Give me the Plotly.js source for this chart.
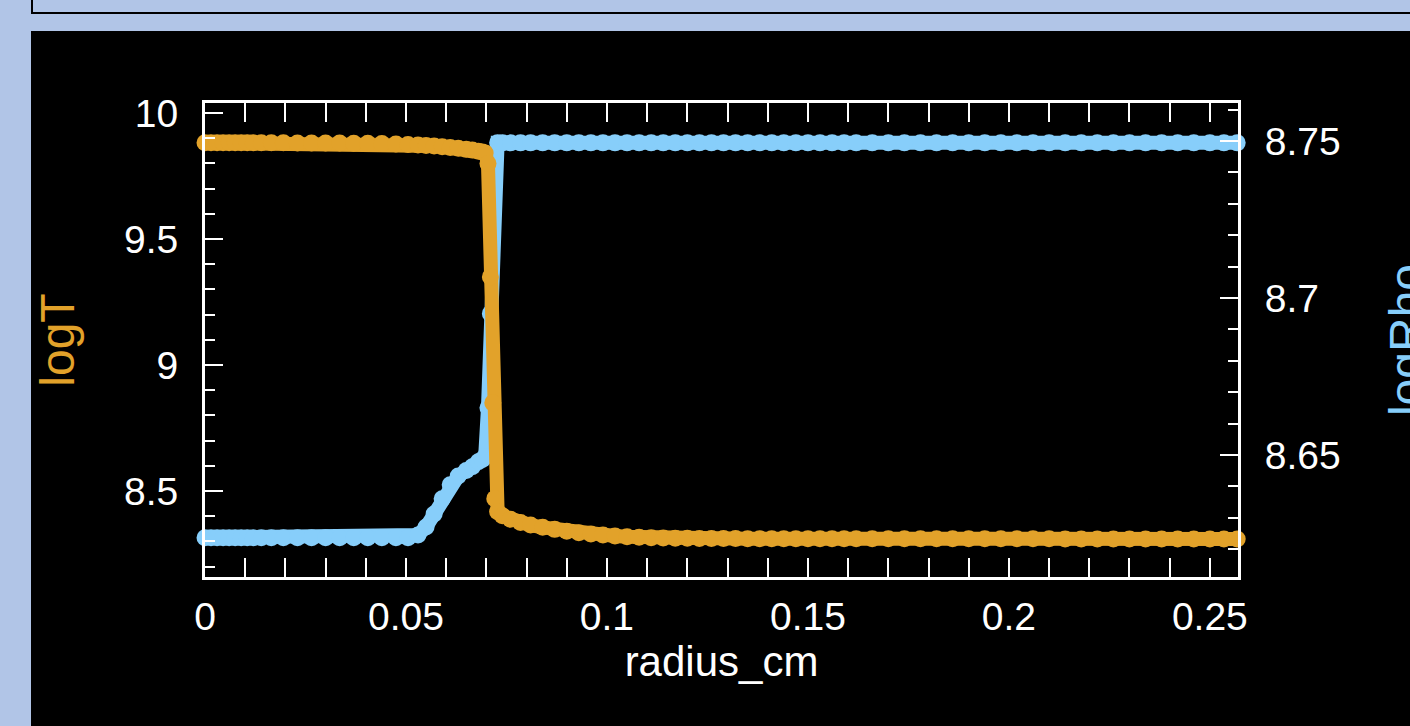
<!DOCTYPE html>
<html>
<head>
<meta charset="utf-8">
<script src="https://cdn.plot.ly/plotly-3.0.1.min.js"></script>
<style>
  html, body { margin: 0; padding: 0; width: 1410px; height: 726px; overflow: hidden; background: #b1c5e7; }
  #topbox { position: absolute; left: 31px; top: -4px; width: 1400px; height: 14px; border: 2px solid #000; background: #b1c5e7; box-sizing: content-box; }
  #chart { position: absolute; left: 31px; top: 31px; width: 1429px; height: 695px; background: #000; }
</style>
</head>
<body>
<div id="topbox"></div>
<div id="chart"></div>
<script>
// radius (cm) of each zone
const radius = [
  0.0000, 0.0015, 0.0030, 0.0045, 0.0060, 0.0075, 0.0090, 0.0105, 0.0120, 0.0140,
  0.0165, 0.0195, 0.0230, 0.0265, 0.0300, 0.0335, 0.0370, 0.0405, 0.0440, 0.0475,
  0.0505, 0.0530, 0.0550, 0.0570, 0.0590, 0.0610, 0.0630, 0.0650, 0.0665, 0.0680,
  0.0690, 0.0697, 0.0704, 0.0710, 0.0716, 0.0721, 0.0728, 0.0740, 0.0760, 0.0785,
  0.0810, 0.0840, 0.0870, 0.0900, 0.0930, 0.0960, 0.0990, 0.1020, 0.1050, 0.1080,
  0.1110, 0.1140, 0.1170, 0.1200, 0.1230, 0.1260, 0.1290, 0.1320, 0.1350, 0.1380,
  0.1410, 0.1440, 0.1470, 0.1500, 0.1530, 0.1560, 0.1590, 0.1620, 0.1660, 0.1700,
  0.1740, 0.1780, 0.1820, 0.1860, 0.1900, 0.1940, 0.1980, 0.2020, 0.2060, 0.2100,
  0.2140, 0.2180, 0.2220, 0.2260, 0.2300, 0.2340, 0.2380, 0.2420, 0.2460, 0.2500,
  0.2535, 0.2568
];

// log10 temperature (left axis)
const logT = [
  9.882, 9.882, 9.882, 9.882, 9.882, 9.882, 9.882, 9.882, 9.882, 9.882,
  9.882, 9.882, 9.881, 9.881, 9.881, 9.881, 9.880, 9.880, 9.879, 9.877,
  9.875, 9.873, 9.871, 9.869, 9.866, 9.863, 9.860, 9.856, 9.853, 9.849,
  9.846, 9.842, 9.800, 9.350, 8.850, 8.470, 8.418, 8.402, 8.388, 8.375,
  8.365, 8.356, 8.348, 8.341, 8.335, 8.330, 8.326, 8.322, 8.319, 8.317,
  8.315, 8.314, 8.313, 8.313, 8.312, 8.312, 8.312, 8.312, 8.311, 8.311,
  8.311, 8.311, 8.311, 8.311, 8.311, 8.311, 8.311, 8.311, 8.311, 8.311,
  8.311, 8.311, 8.311, 8.311, 8.311, 8.311, 8.311, 8.311, 8.311, 8.311,
  8.310, 8.310, 8.310, 8.310, 8.310, 8.310, 8.310, 8.310, 8.310, 8.310,
  8.310, 8.310
];

// log10 density (right axis)
const logRho = [
  8.6236, 8.6236, 8.6236, 8.6236, 8.6236, 8.6236, 8.6236, 8.6236, 8.6236, 8.6236,
  8.6236, 8.6236, 8.6236, 8.6236, 8.6236, 8.6236, 8.6236, 8.6236, 8.6236, 8.6236,
  8.6236, 8.6245, 8.6270, 8.6312, 8.6360, 8.6405, 8.6433, 8.6450, 8.6462, 8.6478,
  8.6485, 8.6495, 8.6650, 8.6950, 8.7280, 8.7460, 8.7494, 8.7494, 8.7494, 8.7494,
  8.7494, 8.7494, 8.7494, 8.7494, 8.7494, 8.7494, 8.7494, 8.7494, 8.7494, 8.7494,
  8.7494, 8.7494, 8.7494, 8.7494, 8.7494, 8.7494, 8.7494, 8.7494, 8.7494, 8.7494,
  8.7494, 8.7494, 8.7494, 8.7494, 8.7494, 8.7494, 8.7494, 8.7494, 8.7494, 8.7494,
  8.7494, 8.7494, 8.7494, 8.7494, 8.7494, 8.7494, 8.7494, 8.7494, 8.7494, 8.7494,
  8.7494, 8.7494, 8.7494, 8.7494, 8.7494, 8.7494, 8.7494, 8.7494, 8.7494, 8.7494,
  8.7494, 8.7494
];

const xLabel = 'radius_cm';
const leftLabel = 'logT';
const rightLabel = 'logRho';

const ORANGE = '#e2a22a';
const BLUE = '#87cefa';
const FONT = 'Liberation Sans, Arial, sans-serif';

// logRho on the primary (right-side) axis, logT on the overlaying (left-side) axis so it is drawn on top
const traces = [
  {
    x: radius, y: logRho, yaxis: 'y', type: 'scatter', mode: 'lines+markers',
    line: { color: BLUE, width: 14 }, marker: { color: BLUE, size: 17 },
    cliponaxis: false, hoverinfo: 'skip', name: rightLabel
  },
  {
    x: radius, y: logT, yaxis: 'y2', type: 'scatter', mode: 'lines+markers',
    line: { color: ORANGE, width: 14 }, marker: { color: ORANGE, size: 17 },
    cliponaxis: false, hoverinfo: 'skip', name: leftLabel
  }
];

const tickCommon = {
  ticks: 'inside', tickcolor: '#fff', tickwidth: 2,
  showline: true, linecolor: '#fff', linewidth: 3,
  showgrid: false, zeroline: false, automargin: false,
  tickfont: { family: FONT, size: 39, color: '#fff' }
};

const layout = {
  width: 1429, height: 695,
  paper_bgcolor: '#000', plot_bgcolor: '#000',
  margin: { l: 174, r: 222, t: 72, b: 149 },
  showlegend: false,
  font: { family: FONT, color: '#fff' },
  xaxis: Object.assign({}, tickCommon, {
    range: [0, 0.257], tick0: 0, dtick: 0.05, ticklen: 19,
    mirror: 'allticks', ticklabelstandoff: 3,
    minor: { dtick: 0.01, tick0: 0, ticks: 'inside', ticklen: 9, tickwidth: 2, tickcolor: '#fff' },
    title: { text: xLabel, font: { family: FONT, size: 42, color: '#fff' }, standoff: 6 }
  }),
  yaxis: Object.assign({}, tickCommon, {
    side: 'right',
    range: [8.6111, 8.7621], tick0: 0, dtick: 0.05, ticklen: 18,
    ticklabelstandoff: 16,
    minor: { dtick: 0.01, tick0: 0, ticks: 'inside', ticklen: 10, tickwidth: 2, tickcolor: '#fff' },
    title: { text: rightLabel, font: { family: FONT, size: 48, color: BLUE }, standoff: 50 }
  }),
  yaxis2: Object.assign({}, tickCommon, {
    overlaying: 'y', side: 'left',
    range: [8.159, 10.04], tick0: 0, dtick: 0.5, ticklen: 18,
    ticklabelstandoff: 16,
    minor: { dtick: 0.1, tick0: 0, ticks: 'inside', ticklen: 10, tickwidth: 2, tickcolor: '#fff' },
    title: { text: leftLabel, font: { family: FONT, size: 48, color: ORANGE }, standoff: 52 }
  })
};

Plotly.newPlot('chart', traces, layout, { staticPlot: true, displayModeBar: false });
</script>
</body>
</html>
